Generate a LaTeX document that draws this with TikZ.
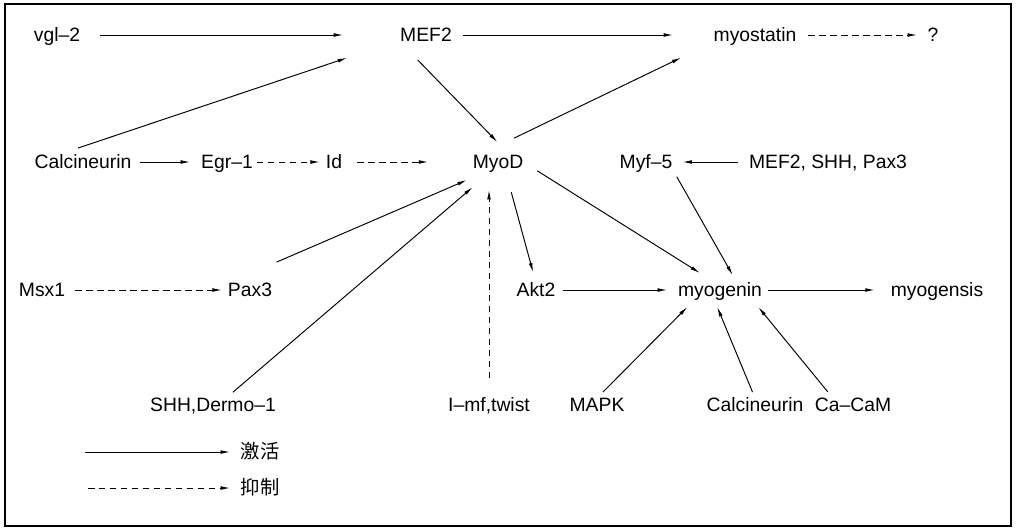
\documentclass[tikz,border=0pt]{standalone}
\usepackage{fontspec}
\setmainfont{Liberation Sans}
\newfontfamily\cjk{Noto Sans CJK SC}
\usetikzlibrary{arrows.meta}

\begin{document}
\begin{tikzpicture}[
    x=0.02cm, y=-0.02cm,
    lbl/.style={inner sep=0pt, outer sep=0pt, text height=7.9pt, text depth=0pt, font=\fontsize{11}{13}\selectfont},
    act/.style={-{Latex[length=0.19cm,width=0.075cm]}, line width=0.55pt},
    inh/.style={act, dash pattern=on 0.13cm off 0.09cm}
  ]
  \useasboundingbox (0,0) rectangle (1016,529);
  \draw[line width=0.9pt] (5,4) rectangle (1011,526);
  \foreach \n/\x/\y/\t in {vgl/57/35/vgl–2, mef/426/35/MEF2, mst/755/35/myostatin, q/933/35/?,
      cn/83/162/Calcineurin, egr/227/162/Egr–1, id/334/162/Id, myod/498/162/MyoD,
      myf/646/162/Myf–5, msp/828/162/{MEF2, SHH, Pax3},
      msx/42/290/Msx1, pax/250/290/Pax3, akt/536/290/Akt2, myog/720/290/myogenin, myogs/937/290/myogensis,
      shh/213/405/{SHH,Dermo–1}, imf/489/405/{I–mf,twist}, mapk/597/405/MAPK, cn2/755/405/Calcineurin, cacam/853/405/Ca–CaM}
    {\node[lbl] (\n) at (\x,\y) {\t};}
  \node[lbl, font=\cjk\fontsize{11}{13}\selectfont] (lgact) at (260,452) {激活};
  \node[lbl, font=\cjk\fontsize{11}{13}\selectfont] (lginh) at (260,488) {抑制};
  \coordinate (lgact0) at (85,452);
  \coordinate (lginh0) at (88,488);
  \foreach \a/\b/\s/\e in {vgl/mef/0.40/1.14, mef/mst/0.22/0.81, cn.165/mef.191/0.44/1.12,
      mef.south west/myod.30/0.50/0.36, myod.160/mst.south west/0.78/0.72,
      pax.north west/myod.232/1.06/0.56, shh.28/myod.240/0.18/0.56,
      myod.-45/akt.north/0.48/0.22, myod.east/myog.120/0.33/0.38, myf.south east/myog.22/0.18/0.18,
      msp/myf/0.22/0.20, cn/egr/0.17/0.22, akt/myog/0.15/0.22, myog/myogs/0.12/0.32,
      mapk.north/myog.197/0.17/0.28, cn2.north/myog.225/0.13/0.22, cacam.161/myog.-13/0.16/0.26,
      lgact0/lgact/0/0.21}
    {\draw[act, shorten <=\s cm, shorten >=\e cm] (\a) -- (\b);}
  \foreach \a/\b/\s/\e in {mst/q/0.24/0.21, egr/id/0.08/0.12, id/myod/0.30/0.89, msx/pax/0.20/0.12,
      lginh0/lginh/0/0.21}
    {\draw[inh, shorten <=\s cm, shorten >=\e cm] (\a) -- (\b);}
  \draw[inh, shorten <=0.40cm, shorten >=0.42cm] (imf.north) -- (imf.north |- myod.south);
\end{tikzpicture}
\end{document}
